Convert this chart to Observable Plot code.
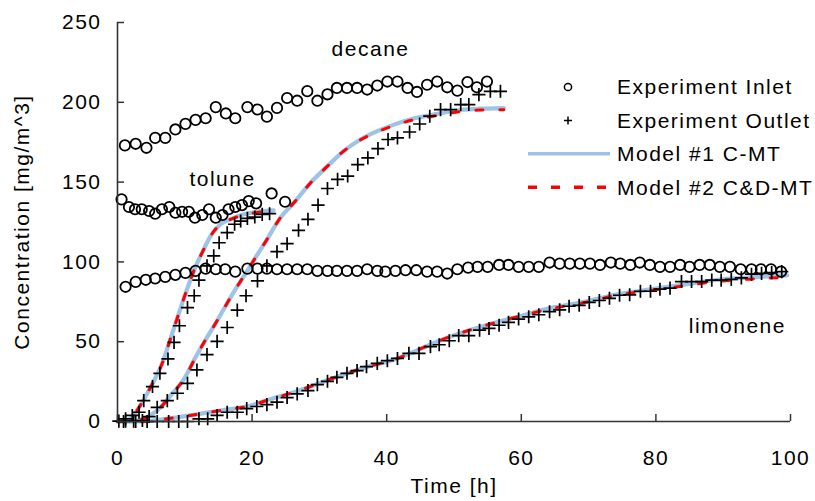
<!DOCTYPE html>
<html><head><meta charset="utf-8">
<script src="https://cdn.jsdelivr.net/npm/d3@7"></script>
<script src="https://cdn.jsdelivr.net/npm/@observablehq/plot@0.6"></script>
<style>
body{margin:0;background:#fff;}
#wrap{position:relative;width:815px;height:501px;}
#legend{position:absolute;left:0;top:0;pointer-events:none;}
</style></head><body><div id="wrap"></div>
<script>
// ---- axis ticks ----
const xTicks = [0, 20, 40, 60, 80, 100];
const yTicks = [0, 50, 100, 150, 200, 250];
const xLabel = "Time [h]";
const yLabel = "Concentration [mg/m^3]";

// ---- compound labels (position in data units) ----
const compoundNames = ["decane", "tolune", "limonene"];
const compoundLabelT = [37.6, 15.6, 92.1];
const compoundLabelV = [233, 152, 59.4];

// ---- Experiment Inlet ----
const decaneInT = [1.1,2.7,4.3,5.6,7.1,8.6,10.1,11.6,13.1,14.6,16.1,17.5,19.3,20.8,22.2,23.7,25.2,26.7,28.2,29.7,31.2,32.6,34.1,35.6,37.1,38.6,40.1,41.6,43.1,44.5,46.0,47.5,49.0,50.5,52.0,53.4,54.9];
const decaneInV = [173,174,171.5,177.7,177.7,183,186.5,189,190,197,193,190,197,195.5,191,196.5,202.7,201,207,201,205,209,209,209,208,210.5,213,213,209,206.5,211,213,209.4,207.3,212.7,209.4,213];
const toluneInT = [0.6,1.7,2.6,3.6,4.7,5.6,6.6,7.7,8.6,9.6,10.6,11.5,12.6,13.6,14.6,15.6,16.5,17.5,18.5,19.5,20.6,22.9,24.9];
const toluneInV = [139.2,134.4,133,133,131.9,130.2,133,134.4,130.8,131.4,131.4,127.7,129.4,133,127.7,129.4,133,134.4,135.6,138.1,136.7,142.9,137.7];
const limoneneInT = [1.2,2.7,4.2,5.6,7.1,8.6,10.1,11.6,13.1,14.6,16.0,17.5,19.3,20.8,22.2,23.7,25.2,26.7,28.2,29.7,31.2,32.6,34.1,35.6,37.1,38.6,39.8,41.3,42.8,44.4,46.0,47.5,49.0,50.5,52.1,53.5,55.0,56.7,58.1,59.6,61.1,62.6,64.2,65.7,67.2,68.7,70.2,71.7,73.3,74.7,76.2,77.6,79.1,80.6,82.1,83.6,85.0,86.5,88.0,89.5,91.0,92.6,94.2,95.6,97.1,98.6];
const limoneneInV = [84.4,87.5,88.8,89.6,90.6,91.9,93.1,94.4,95.8,95.4,95.4,93.9,95.8,95.8,95.8,95.4,95.4,95.4,95.4,94.4,94.4,94.4,94.4,94.4,95.4,94.4,93.9,94.4,94.8,94.8,93.9,93.9,92.7,95.4,96.4,96.9,96.9,98.1,98.1,96.9,96.9,96.9,99.6,98.9,98.9,98.9,98.9,98.1,99.6,98.9,98.1,99.6,98.1,96.9,96.9,98.1,96.9,98.1,98.1,96.9,96.9,95.4,95.4,95.4,95.4,93.9];

// ---- Experiment Outlet ----
const toluneOutT = [0.2,1.2,2.2,3.2,3.9,5.2,6.3,7.5,8.4,9.2,10.4,11.4,12.1,13.3,14.3,15.1,16.3,17.4,18.3,19.3,20.4,21.5,22.6];
const toluneOutV = [0.2,1.7,3.8,5.8,13.1,21.9,30.2,39.2,49.6,60,71.4,78.8,88.6,97.5,103.8,112,118.3,123.6,125.6,127.3,128.1,129.8,130.2];
const decaneOutT = [1.2,2.4,3.7,4.7,5.9,7.4,8.9,10.4,11.8,13.3,14.8,16.3,17.8,19.1,20.8,22.2,23.7,25.2,26.9,28.3,29.8,31.2,32.7,34.2,35.7,37.2,38.7,40.2,41.6,43.4,44.9,46.4,48.0,49.5,51.0,52.2,53.7,55.4,56.9];
const decaneOutV = [0.2,0.2,0.6,3.1,8.9,13.1,17.7,23.9,32.3,41.9,50.2,58.9,69.8,78.8,88.1,97.5,106.4,111.4,119.8,126.7,135.6,146,151.7,153.8,161,165.2,171,176.7,177.7,181.4,186.4,191.3,195.4,195.4,198.6,198.6,204.8,206.9,206.9];
const limoneneOutT = [0.9,2.7,4.4,5.9,7.6,9.1,10.4,12.1,13.4,14.8,16.3,17.8,19.2,20.7,22.2,23.7,25.2,26.7,28.3,29.7,31.2,32.6,34.1,35.6,37.0,38.6,40.1,41.6,43.3,44.8,46.5,47.8,49.3,50.7,52.2,53.8,55.2,56.7,58.1,59.6,61.1,62.6,64.2,65.7,67.1,68.6,70.1,71.6,73.1,74.6,76.1,77.7,79.2,80.6,82.1,83.8,85.3,86.8,88.3,89.7,91.2,92.7,94.2,95.7,97.2,98.7];
const limoneneOutV = [0,0,0,0,0,0,0,1.7,1.7,3.8,5.8,5.8,8.1,9.4,10.6,12.1,15,17.3,19.4,23.1,25.2,27.7,30.2,31.9,34.4,36.4,38.1,39.5,42.7,42.7,46.9,48.1,50.6,53.8,53.8,57.2,58.3,60.3,62.1,64.2,65.6,66.9,68.8,70,72.2,72.8,74.6,75.8,77.2,79.1,79.4,81.6,81.6,82.9,83.6,87.7,87.7,87.7,88.6,88.6,89,90,92.3,92.8,93.3,93.9];

// ---- Model #1 C-MT ----
const toluneM1T = [0,1,2,3.2,4.9,6.6,8.1,9.4,10.6,11.6,12.6,13.8,15.3,16.8,18.8,20.8,23.2];
const toluneM1V = [0,0.5,2,8.9,21.4,36,54.8,71.4,86,97,106,116,123.6,126.7,129.8,131.4,132.3];
const decaneM1T = [0,1.9,3.9,6.4,8.1,9.9,11.6,13.3,14.8,16.5,18.0,19.3,20.5,22.2,24.2,26.2,28.7,31.2,33.6,36.1,38.6,41.1,44.0,46.5,49.0,51.5,53.9,57.4];
const decaneM1V = [0,0,1.7,8.9,17.3,26.7,40.2,52.7,63.1,75.6,86,94.4,102.7,114,127.7,137,149.6,160,169.4,176.7,181.9,186,189.8,191.9,193.9,195.4,196,196.4];
const limoneneM1T = [0,3.4,7,10.8,15.3,19.8,22,26.7,31.6,36.6,41.6,45,49,54.9,58.9,64.8,68.8,74.7,78.7,83.7,88.6,94,99.5];
const limoneneM1V = [0,0,1.5,3.8,6.9,10,13,19,26.5,33.6,39.5,45.5,52.5,60.5,65,71.5,74.5,80,82.5,85.5,88.5,90.3,91.5];

// ---- Model #2 C&D-MT ----
const toluneM2T = [0,1,2,3.2,4.9,6.6,8.1,9.4,10.6,11.6,12.6,13.8,15.3,16.8,18.8,20.8,23.2];
const toluneM2V = [0,0.5,2,8.9,21.4,36,54.8,71.4,86,97,106,116,123.6,126.7,129.5,131,131.8];
const decaneM2T = [0,1.9,3.9,6.4,8.1,9.9,11.6,13.3,14.8,16.5,18.0,19.3,20.5,22.2,24.2,26.2,28.7,31.2,33.6,36.1,38.6,41.1,44.0,46.5,49.0,51.5,53.9,57.4];
const decaneM2V = [0,0,1.7,8.9,17.3,26.7,40.2,52.7,63.1,75.6,86,94.4,102.7,114,127.7,137,149.6,160,169.4,176.5,181.5,185.5,189,191,193,194.5,195.2,195.4];
const limoneneM2T = [0,3.4,7,10.8,15.3,19.8,22,26.7,31.6,36.6,41.6,45,49,54.9,58.9,64.8,68.8,74.7,78.7,83.7,88.6,94,99.5];
const limoneneM2V = [0,0,1.5,3.8,6.9,10,13,19,26.5,33.6,39.5,45.5,52.5,60.5,65,71,74,79.5,81.8,84.7,87.5,89.2,90.3];

// ---- legend entries ----
const legendLabels = ["Experiment Inlet", "Experiment Outlet", "Model #1 C-MT", "Model #2 C&D-MT"];

// ---- build tables ----
const zip = (name, T, V) => T.map((t, i) => ({name, t, v: V[i]}));
const inlet = [...zip("decane", decaneInT, decaneInV), ...zip("tolune", toluneInT, toluneInV), ...zip("limonene", limoneneInT, limoneneInV)];
const outlet = [...zip("decane", decaneOutT, decaneOutV), ...zip("tolune", toluneOutT, toluneOutV), ...zip("limonene", limoneneOutT, limoneneOutV)];
const model1 = [...zip("decane", decaneM1T, decaneM1V), ...zip("tolune", toluneM1T, toluneM1V), ...zip("limonene", limoneneM1T, limoneneM1V)];
const model2 = [...zip("decane", decaneM2T, decaneM2V), ...zip("tolune", toluneM2T, toluneM2V), ...zip("limonene", limoneneM2T, limoneneM2V)];
const compoundLabels = compoundNames.map((n, i) => ({n, t: compoundLabelT[i], v: compoundLabelV[i]}));

const FONT = "'Liberation Sans', Arial, sans-serif";
const BLUE = "#9DC3E6";
const RED = "#FF0000";
const AXIS = "#333333";

const W = 815, H = 501, ML = 117, MR = 25, MT = 22, MB = 80;
const tick = 7;

const chart = Plot.plot({
  width: W, height: H,
  marginLeft: ML, marginRight: MR, marginTop: MT, marginBottom: MB,
  x: {domain: [0, 100]},
  y: {domain: [0, 250]},
  style: `font-family:${FONT};font-size:21px;letter-spacing:1.5px;background:#fff;overflow:visible;color:#000;`,
  marks: [
    Plot.axisX({ticks: xTicks, tickSize: 0, tickPadding: 29, fontSize: 21, label: null, tickFormat: d => String(d), fill: "#000"}),
    Plot.axisY({ticks: yTicks, tickSize: 0, tickPadding: 16, fontSize: 21, label: null, tickFormat: d => String(d), fill: "#000"}),
    Plot.line(model1, {x: "t", y: "v", z: "name", stroke: BLUE, strokeWidth: 4.2, curve: "monotone-x"}),
    Plot.line(model2, {x: "t", y: "v", z: "name", stroke: RED, strokeWidth: 3, strokeDasharray: "7,17", curve: "monotone-x"}),
    Plot.dot(inlet, {x: "t", y: "v", symbol: "circle", r: 5.2, stroke: "#000", fill: "none", strokeWidth: 1.8}),
    Plot.dot(outlet, {x: "t", y: "v", symbol: "plus", r: 4.3, stroke: "#000", strokeWidth: 1.7}),
    Plot.ruleX([0], {stroke: AXIS, strokeWidth: 1.6}),
    Plot.ruleY([0], {stroke: AXIS, strokeWidth: 1.6}),
    Plot.tickX(xTicks, {x: d => d, insetTop: (H - MT - MB) - tick, stroke: AXIS, strokeWidth: 1.5}),
    Plot.tickY(yTicks, {y: d => d, insetRight: (W - ML - MR) - tick, stroke: AXIS, strokeWidth: 1.5}),
    Plot.text(compoundLabels, {x: "t", y: "v", text: "n", fontSize: 21, fill: "#000"}),
    Plot.text([xLabel], {frameAnchor: "bottom", dy: 71, fontSize: 21, fill: "#000"}),
    Plot.text([yLabel], {frameAnchor: "left", textAnchor: "middle", dx: -95, rotate: -90, fontSize: 21, fill: "#000"})
  ]
});

const wrap = document.getElementById("wrap");
wrap.appendChild(chart);

// ---- legend overlay ----
const ns = "http://www.w3.org/2000/svg";
const lg = document.createElementNS(ns, "svg");
lg.setAttribute("id", "legend");
lg.setAttribute("width", W);
lg.setAttribute("height", H);
lg.setAttribute("style", `font-family:${FONT};font-size:21px;letter-spacing:1.5px;`);
const rowY0 = 87, rowGap = 33.4, swX0 = 528, swX1 = 610, swC = 568, txtX = 617;
legendLabels.forEach((label, i) => {
  const y = rowY0 + i * rowGap;
  let el;
  if (i === 0) {
    el = document.createElementNS(ns, "circle");
    el.setAttribute("cx", swC); el.setAttribute("cy", y); el.setAttribute("r", 3.6);
    el.setAttribute("fill", "none"); el.setAttribute("stroke", "#000"); el.setAttribute("stroke-width", 1.5);
  } else if (i === 1) {
    el = document.createElementNS(ns, "path");
    el.setAttribute("d", `M${swC - 4},${y}H${swC + 4}M${swC},${y - 4}V${y + 4}`);
    el.setAttribute("stroke", "#000"); el.setAttribute("stroke-width", 1.5);
  } else {
    el = document.createElementNS(ns, "line");
    el.setAttribute("x1", swX0); el.setAttribute("x2", swX1);
    el.setAttribute("y1", y); el.setAttribute("y2", y);
    el.setAttribute("stroke", i === 2 ? BLUE : RED);
    el.setAttribute("stroke-width", 3.5);
    if (i === 3) el.setAttribute("stroke-dasharray", "9,14");
  }
  lg.appendChild(el);
  const tx = document.createElementNS(ns, "text");
  tx.setAttribute("x", txtX); tx.setAttribute("y", y);
  tx.setAttribute("dy", "0.35em");
  tx.setAttribute("fill", "#000");
  tx.textContent = label;
  lg.appendChild(tx);
});
wrap.appendChild(lg);
</script>
</body></html>
